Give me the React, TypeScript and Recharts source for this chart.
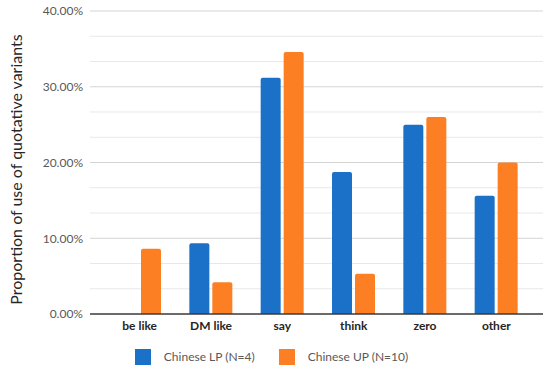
import { BarChart, Bar, XAxis, YAxis, CartesianGrid, Legend } from 'recharts'

// quotative variants, proportions in percent
const categories = ['be like', 'DM like', 'say', 'think', 'zero', 'other']
const chineseLP = [0, 9.33, 31.2, 18.75, 25, 15.6]
const chineseUP = [8.6, 4.2, 34.6, 5.3, 26, 20]

const yTicks = [0, 10, 20, 30, 40]
const minorGrid = [3.333, 6.667, 13.333, 16.667, 23.333, 26.667, 33.333, 36.667]
const majorGrid = [10, 20, 30, 40]

const seriesNames = ['Chinese LP (N=4)', 'Chinese UP (N=10)']
const BLUE = '#1b70c8'
const ORANGE = '#fd7f24'
const FONT = 'Lato, "Open Sans", sans-serif'

const data = categories.map((name, i) => ({ name, lp: chineseLP[i], up: chineseUP[i] }))

function LegendBox() {
  const items = [
    { label: seriesNames[0], color: BLUE },
    { label: seriesNames[1], color: ORANGE },
  ]
  return (
    <div style={{ display: 'flex', justifyContent: 'center', alignItems: 'center', height: 30, paddingTop: 3, boxSizing: 'border-box', fontFamily: FONT }}>
      {items.map((it, i) => (
        <div key={it.label} style={{ display: 'flex', alignItems: 'center', marginLeft: i ? 24 : 0 }}>
          <span style={{ width: 16, height: 16, background: it.color, display: 'inline-block', marginRight: 13 }} />
          <span style={{ fontSize: 12, color: '#595959' }}>{it.label}</span>
        </div>
      ))}
    </div>
  )
}

function YLabel(props: any) {
  const vb = props.viewBox || { x: 0, y: 0, height: 0 }
  const cx = 15
  const cy = vb.y + vb.height / 2 + 7
  return (
    <text
      x={cx}
      y={cy}
      transform={`rotate(-90, ${cx}, ${cy})`}
      textAnchor="middle"
      dominantBaseline="central"
      fontSize={16}
      fontFamily={FONT}
      fill="#262626"
    >
      Proportion of use of quotative variants
    </text>
  )
}

export default function App() {
  return (
    <div style={{ position: 'absolute', left: 0, top: 0, background: '#fff' }}>
      <BarChart
        width={550}
        height={370}
        data={data}
        margin={{ top: 11, right: 7, left: 0, bottom: 0 }}
        barSize={20}
        barGap={3}
      >
        <CartesianGrid horizontalValues={minorGrid} vertical={false} stroke="#e8e8e8" />
        <CartesianGrid horizontalValues={majorGrid} vertical={false} stroke="#d4d4d4" />
        <XAxis
          dataKey="name"
          height={26}
          padding={{ left: 14, right: 11 }}
          tickLine={false}
          tickSize={5}
          axisLine={{ stroke: '#3a3a3a', strokeWidth: 1.5 }}
          tick={{ fontSize: 12, fontWeight: 700, fill: '#262626', fontFamily: FONT }}
          interval={0}
        />
        <YAxis
          width={90}
          domain={[0, 40]}
          ticks={yTicks}
          tickFormatter={(v: number) => `${v.toFixed(2)}%`}
          tickLine={false}
          axisLine={false}
          tickSize={7}
          tickMargin={0}
          tick={{ fontSize: 12, fill: '#595959', fontFamily: FONT }}
          label={<YLabel />}
        />
        <Legend verticalAlign="bottom" content={() => <LegendBox />} />
        <Bar dataKey="lp" name={seriesNames[0]} fill={BLUE} radius={[2, 2, 0, 0]} isAnimationActive={false} />
        <Bar dataKey="up" name={seriesNames[1]} fill={ORANGE} radius={[2, 2, 0, 0]} isAnimationActive={false} />
      </BarChart>
    </div>
  )
}
